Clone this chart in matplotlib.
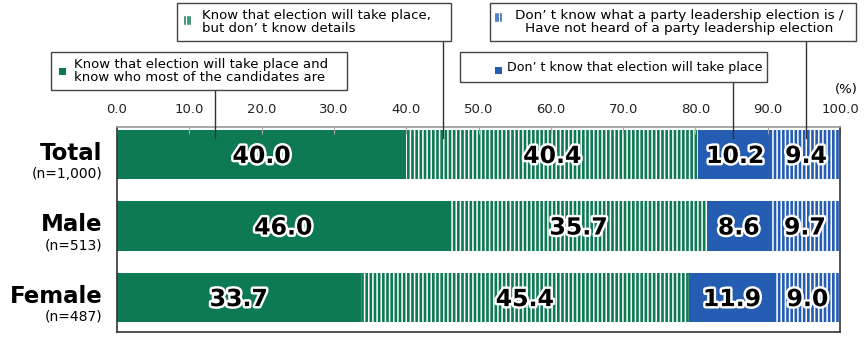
import numpy as np
from matplotlib import pyplot as plt
from matplotlib import patheffects as pe
from matplotlib import transforms
from matplotlib.patches import Rectangle

plt.rcParams['font.family'] = ['DejaVu Sans']
plt.rcParams['hatch.linewidth'] = 1.1

# data
groups = ['Total', 'Male', 'Female']
sizes = ['(n=1,000)', '(n=513)', '(n=487)']
know_candidates = [40.0, 46.0, 33.7]
know_no_details = [40.4, 35.7, 45.4]
dont_know_election = [10.2, 8.6, 11.9]
dont_know_what = [9.4, 9.7, 9.0]
ticks = [0, 10, 20, 30, 40, 50, 60, 70, 80, 90, 100]

GREEN = '#0e7a53'
BLUE = '#255db3'
W, H = 866, 338

series = [
    (know_candidates, GREEN, None),
    (know_no_details, GREEN, '||||'),
    (dont_know_election, BLUE, None),
    (dont_know_what, BLUE, '||||'),
]

fig = plt.figure(figsize=(W / 100, H / 100), dpi=100)
ax = fig.add_axes([117 / W, 1 - 332 / H, 723 / W, 205 / H])

y = np.arange(len(groups))
left = np.zeros(len(groups))
for values, color, hatch in series:
    vals = np.array(values)
    if hatch:
        ax.barh(y, vals, left=left, height=0.69, color=color,
                edgecolor='white', linewidth=0, hatch=hatch)
    else:
        ax.barh(y, vals, left=left, height=0.69, color=color, linewidth=0)
    for i, v in enumerate(vals):
        ax.text(left[i] + v / 2, y[i] + 0.02, f'{v:.1f}', ha='center', va='center',
                fontsize=17, fontweight='bold', color='black',
                path_effects=[pe.withStroke(linewidth=3.5, foreground='white')])
    left += vals

ax.set_xlim(0, 100)
ax.set_ylim(2.48, -0.385)
ax.xaxis.tick_top()
ax.set_xticks(ticks)
ax.set_xticklabels([f'{t:.1f}' for t in ticks], fontsize=9.5, color='#222222')
ax.tick_params(axis='x', direction='in', length=5, width=0.8, color='#aaaaaa', pad=8)
ax.set_yticks([])
for s in ax.spines.values():
    s.set_color('#333333')
    s.set_linewidth(1.2)
ax.spines['top'].set_color('#999999')

for i, (g, n) in enumerate(zip(groups, sizes)):
    ax.text(-2, y[i] - 0.02, g, ha='right', va='center', fontsize=16.5, fontweight='bold')
    ax.text(-2, y[i] + 0.27, n, ha='right', va='center', fontsize=10)

fig.text(858 / W, 1 - 90 / H, '(%)', ha='right', va='center', fontsize=9.5)


def fx(px):
    return px / W


def fy(py):
    return 1 - py / H


def callout(x0, y0, x1, y1, lines, tx, marker_xy, color, hatch, line_x,
            align='left', size=9.5):
    fig.patches.append(Rectangle((fx(x0), fy(y1)), fx(x1 - x0), (y1 - y0) / H,
                                 transform=fig.transFigure, facecolor='white',
                                 edgecolor='#444444', linewidth=1.0, zorder=3))
    mx, my = marker_xy
    if hatch:
        for k in range(3):
            fig.lines.append(plt.Line2D([fx(mx + 1 + 2.5 * k)] * 2, [fy(my), fy(my + 7)],
                                        transform=fig.transFigure, color=color,
                                        linewidth=1.1, zorder=4))
    else:
        fig.patches.append(Rectangle((fx(mx), fy(my + 7)), fx(7), 7 / H,
                                     transform=fig.transFigure, facecolor=color,
                                     linewidth=0, zorder=4))
    ty = (y0 + y1) / 2
    if align == 'center':
        fig.text(fx(tx), fy(ty), lines, ha='center', va='center', fontsize=size,
                 multialignment='center', linespacing=1.05, zorder=5)
    else:
        fig.text(fx(tx), fy(ty), lines, ha='left', va='center', fontsize=size,
                 linespacing=1.05, zorder=5)
    trans = transforms.blended_transform_factory(ax.transData, fig.transFigure)
    ax.plot([line_x, line_x], [fy(y1), fy(138)], transform=trans, color='#333333',
            linewidth=1.0, clip_on=False, zorder=6)


callout(51, 52, 347, 90,
        'Know that election will take place and\nknow who most of the candidates are',
        74, (59, 68), GREEN, None, 13.5)
callout(177, 3, 451, 41,
        'Know that election will take place,\nbut don\u2019 t know details',
        202, (184, 17), GREEN, True, 45.1)
callout(460, 52, 767, 82, 'Don\u2019 t know that election will take place',
        507, (495, 67), BLUE, None, 85.2, size=9.1)
callout(490, 3, 856, 41,
        'Don\u2019 t know what a party leadership election is /\n'
        'Have not heard of a party leadership election',
        679, (495, 14), BLUE, True, 95.3, align='center', size=9.7)

fig.savefig('out.png', dpi=100)
